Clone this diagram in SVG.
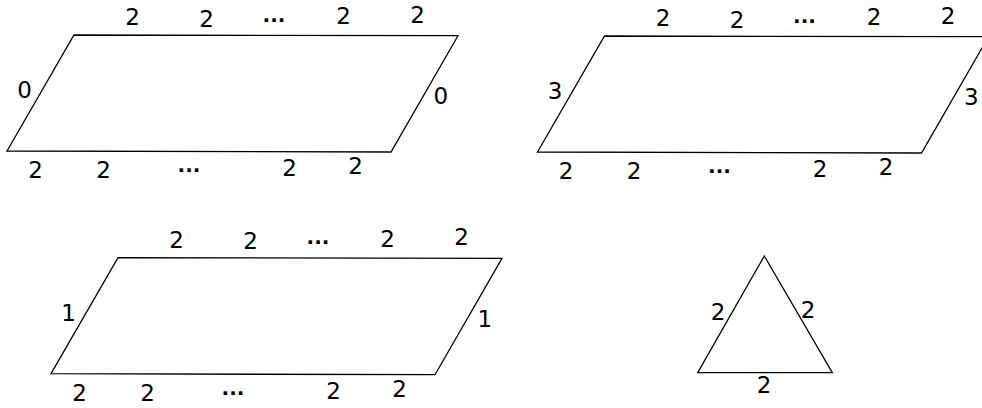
<svg xmlns="http://www.w3.org/2000/svg" width="982" height="408" viewBox="0 0 982 408">
<style>
.shape{fill:none;stroke:#000;stroke-width:1.3;stroke-linejoin:miter}
text{font-family:"DejaVu Sans",sans-serif;font-size:23px;fill:#000;text-anchor:middle}
text.dots{font-size:20px;font-weight:bold}
</style>
<rect width="982" height="408" fill="#fff"/>
<g id="parallelogram-0">
<polygon class="shape" points="74,35 458,35.7 391,152 7,151"/>
<text x="132.5" y="25">2</text><text x="206.5" y="26.5">2</text><text class="dots" x="274" y="21.7">...</text><text x="343.5" y="24">2</text><text x="417.5" y="22.7">2</text>
<text x="24.5" y="98.3">0</text><text x="440.7" y="104">0</text>
<text x="35.5" y="178">2</text><text x="103.5" y="178">2</text><text class="dots" x="189" y="172">...</text><text x="289.5" y="176">2</text><text x="355.5" y="174">2</text>
</g>
<g id="parallelogram-3" transform="translate(530.5,1)">
<polygon class="shape" points="74,35 458,35.7 391,152 7,151"/>
<text x="132.5" y="25">2</text><text x="206.5" y="26.5">2</text><text class="dots" x="274" y="21.7">...</text><text x="343.5" y="24">2</text><text x="417.5" y="22.7">2</text>
<text x="24.5" y="98.3">3</text><text x="440.7" y="104">3</text>
<text x="35.5" y="178">2</text><text x="103.5" y="178">2</text><text class="dots" x="189" y="172">...</text><text x="289.5" y="176">2</text><text x="355.5" y="174">2</text>
</g>
<g id="parallelogram-1" transform="translate(44,222.7)">
<polygon class="shape" points="74,35 458,35.7 391,152 7,151"/>
<text x="132.5" y="25">2</text><text x="206.5" y="26.5">2</text><text class="dots" x="274" y="21.7">...</text><text x="343.5" y="24">2</text><text x="417.5" y="22.7">2</text>
<text x="24.5" y="98.3">1</text><text x="440.7" y="104">1</text>
<text x="35.5" y="178">2</text><text x="103.5" y="178">2</text><text class="dots" x="189" y="172">...</text><text x="289.5" y="176">2</text><text x="355.5" y="174">2</text>
</g>
<g id="triangle">
<polygon class="shape" points="764.3,256 832.3,372.7 697.7,372.7"/>
<text x="718" y="320">2</text><text x="808" y="318.3">2</text><text x="764" y="393.3">2</text>
</g>
<g id="connectors"/>
</svg>
